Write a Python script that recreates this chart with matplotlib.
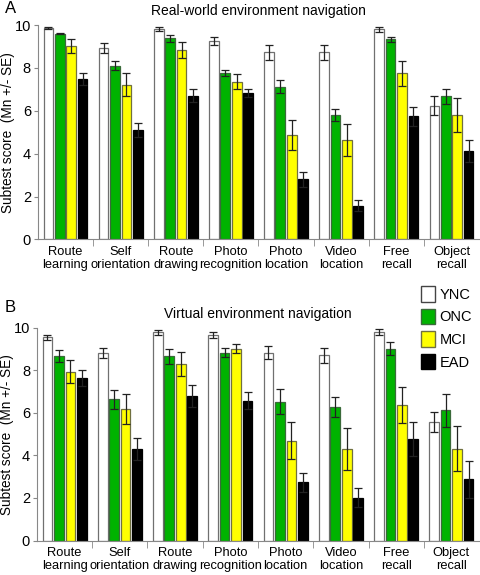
import numpy as np
import matplotlib
matplotlib.use("Agg")
import matplotlib.pyplot as plt
from matplotlib.patches import Patch

plt.rcParams["font.family"] = ["Liberation Sans", "DejaVu Sans"]

subtests = ["Route\nlearning", "Self\norientation", "Route\ndrawing", "Photo\nrecognition",
            "Photo\nlocation", "Video\nlocation", "Free\nrecall", "Object\nrecall"]
groups = ["YNC", "ONC", "MCI", "EAD"]

# Real-world navigation: means and SE
real_mean = {
    "YNC": [9.88, 8.94, 9.80, 9.25, 8.72, 8.72, 9.80, 6.24],
    "ONC": [9.60, 8.10, 9.38, 7.76, 7.12, 5.82, 9.33, 6.67],
    "MCI": [9.04, 7.22, 8.83, 7.36, 4.88, 4.63, 7.74, 5.82],
    "EAD": [7.48, 5.10, 6.70, 6.83, 2.81, 1.57, 5.74, 4.14],
}
real_se = {
    "YNC": [0.05, 0.23, 0.10, 0.17, 0.35, 0.35, 0.12, 0.45],
    "ONC": [0.04, 0.20, 0.15, 0.15, 0.30, 0.28, 0.13, 0.33],
    "MCI": [0.33, 0.55, 0.37, 0.36, 0.70, 0.75, 0.57, 0.80],
    "EAD": [0.26, 0.33, 0.30, 0.20, 0.35, 0.26, 0.45, 0.52],
}
# Virtual navigation
virt_mean = {
    "YNC": [9.55, 8.82, 9.78, 9.66, 8.83, 8.71, 9.80, 5.56],
    "ONC": [8.66, 6.64, 8.66, 8.83, 6.53, 6.26, 9.02, 6.12],
    "MCI": [7.93, 6.18, 8.29, 9.02, 4.69, 4.31, 6.36, 4.31],
    "EAD": [7.65, 4.30, 6.79, 6.56, 2.73, 2.02, 4.75, 2.88],
}
virt_se = {
    "YNC": [0.12, 0.22, 0.10, 0.12, 0.30, 0.35, 0.12, 0.46],
    "ONC": [0.28, 0.45, 0.36, 0.20, 0.57, 0.47, 0.32, 0.78],
    "MCI": [0.55, 0.70, 0.55, 0.22, 0.87, 1.00, 0.86, 1.05],
    "EAD": [0.38, 0.50, 0.50, 0.40, 0.46, 0.43, 0.80, 0.88],
}

colors = {"YNC": "white", "ONC": "#00b300", "MCI": "#ffff00", "EAD": "black"}
edges = {"YNC": "#707070", "ONC": "#3a6a3a", "MCI": "#707040", "EAD": "black"}


def draw_panel(ax, means, ses, title):
    x = np.arange(len(subtests))
    offs = [-0.31, -0.105, 0.105, 0.31]
    for g, off in zip(groups, offs):
        ax.bar(x + off, means[g], width=0.175, color=colors[g], edgecolor=edges[g],
               linewidth=0.9, zorder=2)
        ax.errorbar(x + off, means[g], yerr=ses[g], fmt="none", ecolor="#222222",
                    elinewidth=0.9, capsize=3, capthick=0.9, zorder=3)
    ax.set_xlim(-0.5, len(subtests) - 0.5)
    ax.set_ylim(0, 10)
    ax.set_yticks([0, 2, 4, 6, 8, 10])
    ax.tick_params(axis="y", labelsize=10.5, length=3, color="#888888", pad=2)
    ax.set_xticks(x)
    ax.set_xticklabels(subtests, fontsize=9.3, linespacing=1.1)
    ax.tick_params(axis="x", length=0, pad=5)
    ax.set_xticks(np.arange(0.5, len(subtests) - 0.5, 1), minor=True)
    ax.tick_params(axis="x", which="minor", length=5, color="#888888")
    for s in ["top", "right"]:
        ax.spines[s].set_visible(False)
    for s in ["left", "bottom"]:
        ax.spines[s].set_color("#888888")
    ax.set_ylabel("Subtest score  (Mn +/- SE)", fontsize=9.8)
    ax.yaxis.set_label_coords(-0.052, 0.5)
    ax.set_title(title, fontsize=10, pad=7)


fig = plt.figure(figsize=(4.8, 5.75), dpi=100)
axA = fig.add_axes([0.079, 0.5835, 0.919, 0.373])
axB = fig.add_axes([0.077, 0.060, 0.921, 0.370])
draw_panel(axA, real_mean, real_se, "Real-world environment navigation")
draw_panel(axB, virt_mean, virt_se, "Virtual environment navigation")

fig.text(0.01, 0.985, "A", fontsize=12, va="center")
fig.text(0.01, 0.466, "B", fontsize=12, va="center")

handles = [Patch(facecolor=colors[g], edgecolor=edges[g] if g != "YNC" else "#444444") for g in groups]
fig.legend(handles, groups, loc="upper right", bbox_to_anchor=(1.005, 0.52), frameon=False,
           fontsize=10.5, handlelength=0.95, handleheight=1.25, handletextpad=0.3,
           labelspacing=0.48, borderpad=0.2)

fig.savefig("out.png", dpi=100)
